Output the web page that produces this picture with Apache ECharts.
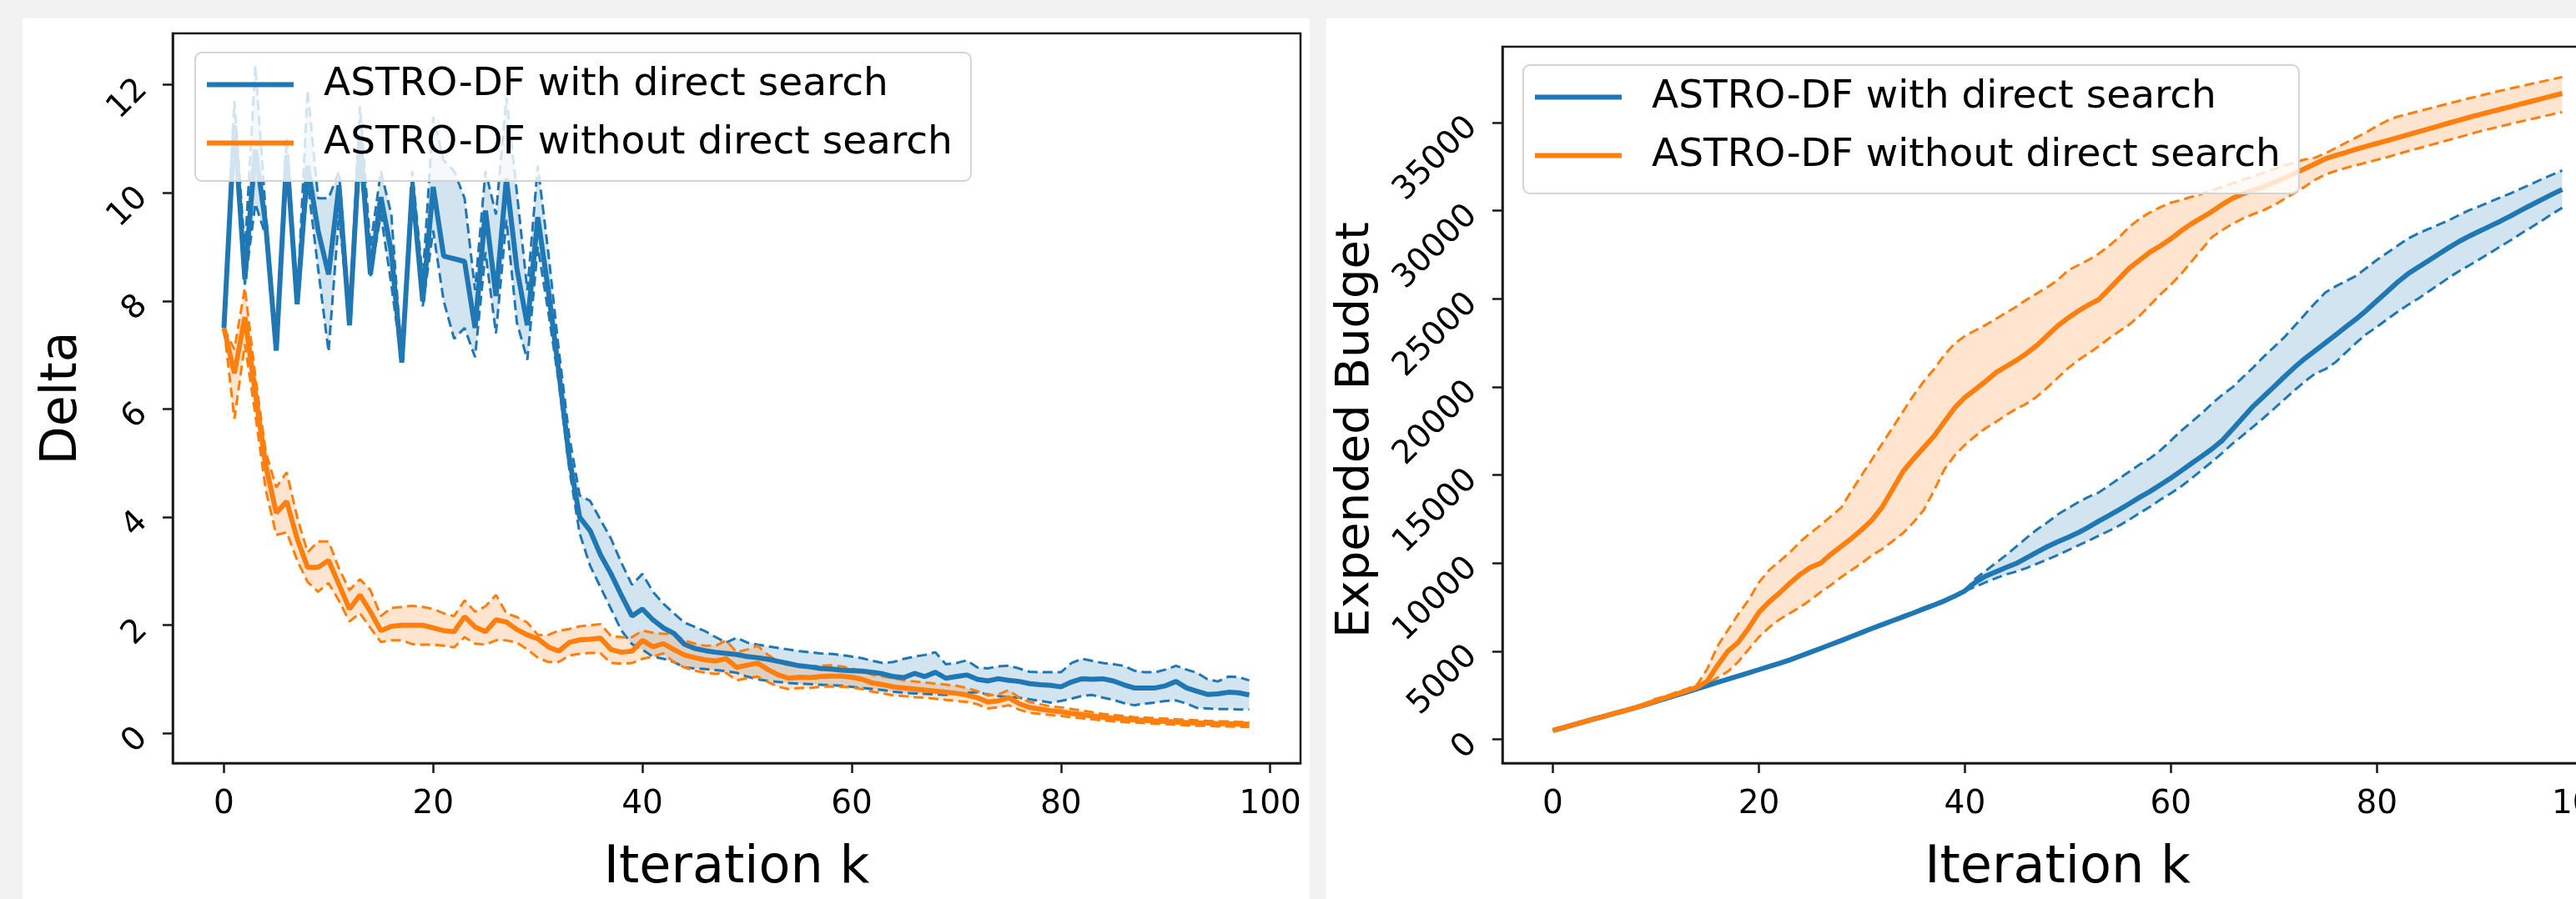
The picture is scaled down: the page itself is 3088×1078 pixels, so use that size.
<!DOCTYPE html>
<html lang="en">
<head>
<meta charset="UTF-8">
<title>ASTRO-DF with / without direct search</title>
<script src="https://cdn.jsdelivr.net/npm/echarts@6/dist/echarts.min.js"></script>
<style>
  html, body { margin: 0; padding: 0; background: #f2f2f2; overflow: hidden; width: 3088px; height: 1078px; }
  .panel { position: absolute; background: #fff; }
  #main { position: absolute; left: 0; top: 0; width: 3200px; height: 1078px; }
</style>
</head>
<body>
<div class="panel" style="left:27px;top:22px;width:1543px;height:1056px"></div>
<div class="panel" style="left:1590px;top:22px;width:1498px;height:1056px"></div>
<div id="main"></div>
<script>
var nameWith = 'ASTRO-DF with direct search';
var nameWithout = 'ASTRO-DF without direct search';
var blue = '#1f77b4';
var orange = '#ff7f0e';

var xTicks = [0, 20, 40, 60, 80, 100];
var deltaTicks = [0, 2, 4, 6, 8, 10, 12];
var budgetTicks = [0, 5000, 10000, 15000, 20000, 25000, 30000, 35000];

// left panel: Delta per iteration (k = 0..98)
var deltaWithMean = [7.50, 11.25, 8.40, 10.8, 9.4, 7.08, 10.7, 7.94, 10.5, 9.3, 8.49, 10.14, 7.55, 11.0, 8.49, 9.92, 8.9, 6.86, 10.11, 7.99,
  10.11, 8.83, 8.78, 8.73, 7.50, 9.67, 8.09, 10.26, 8.6, 7.55, 9.55, 8.2, 6.7, 5.1, 4.0,
  3.75, 3.30, 2.95, 2.55, 2.17, 2.30, 2.10, 1.95, 1.85, 1.65, 1.57, 1.53, 1.50, 1.48, 1.46, 1.42, 1.40, 1.37, 1.33, 1.29,
  1.25, 1.23, 1.20, 1.19, 1.17, 1.16, 1.15, 1.13, 1.10, 1.05, 1.03, 1.11, 1.05, 1.13, 1.02, 1.05, 1.08, 1.00, 0.97, 1.01,
  0.98, 0.96, 0.92, 0.90, 0.89, 0.86, 0.95, 1.01, 1.00, 1.01, 0.97, 0.90, 0.84, 0.84, 0.84, 0.88, 0.96, 0.84, 0.78, 0.72,
  0.73, 0.76, 0.75, 0.71];
var deltaWithLow = [7.50, 11.0, 8.30, 9.8, 9.2, 7.08, 10.5, 7.94, 10.2, 8.6, 7.06, 9.6, 7.55, 10.7, 8.45, 9.6, 8.3, 6.86, 10.0, 7.9,
  9.3, 8.0, 7.3, 7.5, 6.96, 8.9, 7.4, 9.5, 7.6, 6.91, 9.0, 7.8, 6.5, 4.9, 3.7,
  3.10, 2.70, 2.30, 1.90, 1.65, 1.55, 1.42, 1.38, 1.32, 1.22, 1.20, 1.19, 1.17, 1.15, 1.12, 1.05, 1.00, 0.97, 0.95, 0.93,
  0.92, 0.91, 0.90, 0.89, 0.88, 0.86, 0.84, 0.82, 0.80, 0.77, 0.75, 0.74, 0.73, 0.72, 0.71, 0.73, 0.75, 0.76, 0.72, 0.69,
  0.67, 0.66, 0.63, 0.60, 0.57, 0.60, 0.64, 0.69, 0.71, 0.66, 0.62, 0.56, 0.52, 0.55, 0.57, 0.60, 0.61, 0.55, 0.47, 0.46,
  0.45, 0.45, 0.44, 0.44];
var deltaWithHigh = [7.50, 11.7, 8.9, 12.35, 9.6, 7.2, 11.0, 8.0, 11.9, 9.9, 9.9, 10.4, 7.7, 11.6, 9.0, 10.4, 9.6, 6.9, 10.4, 8.4,
  11.4, 10.6, 10.4, 9.9, 8.2, 10.4, 9.6, 11.76, 10.0, 8.2, 10.5, 8.9, 7.1, 5.5, 4.4,
  4.30, 3.95, 3.60, 3.15, 2.75, 2.95, 2.62, 2.40, 2.22, 2.05, 1.97, 1.89, 1.78, 1.68, 1.77, 1.68, 1.64, 1.61, 1.58, 1.55,
  1.52, 1.50, 1.48, 1.47, 1.45, 1.42, 1.39, 1.34, 1.30, 1.32, 1.38, 1.42, 1.45, 1.50, 1.28, 1.30, 1.35, 1.22, 1.20, 1.24,
  1.25, 1.20, 1.14, 1.13, 1.13, 1.13, 1.30, 1.38, 1.34, 1.30, 1.28, 1.25, 1.16, 1.13, 1.13, 1.18, 1.25, 1.18, 1.12, 1.00,
  0.96, 1.05, 1.04, 0.98];

var deltaWithoutMean = [7.50, 6.66, 7.70, 6.30, 4.95, 4.08, 4.29, 3.60, 3.07, 3.07, 3.20, 2.75, 2.30, 2.56, 2.25, 1.90, 1.98, 2.00, 2.00, 2.00,
  1.95, 1.90, 1.88, 2.16, 1.97, 1.88, 2.10, 2.06, 1.92, 1.82, 1.75, 1.60, 1.52, 1.68, 1.73, 1.74, 1.76, 1.55, 1.50, 1.52,
  1.72, 1.60, 1.66, 1.55, 1.45, 1.40, 1.36, 1.34, 1.38, 1.22, 1.26, 1.30, 1.18, 1.08, 1.02, 1.04, 1.03, 1.05, 1.06, 1.06,
  1.04, 1.00, 0.93, 0.90, 0.86, 0.84, 0.82, 0.80, 0.78, 0.76, 0.74, 0.71, 0.66, 0.58, 0.60, 0.66, 0.55, 0.48, 0.45, 0.42,
  0.40, 0.37, 0.35, 0.32, 0.30, 0.28, 0.27, 0.25, 0.24, 0.23, 0.22, 0.21, 0.20, 0.19, 0.19, 0.18, 0.18, 0.17, 0.17];
var deltaWithoutLow = [7.50, 5.82, 7.20, 5.90, 4.50, 3.67, 3.72, 3.20, 2.80, 2.62, 2.78, 2.45, 2.07, 2.22, 1.95, 1.69, 1.72, 1.72, 1.65, 1.64,
  1.64, 1.62, 1.59, 1.78, 1.66, 1.64, 1.72, 1.72, 1.68, 1.55, 1.40, 1.32, 1.32, 1.44, 1.47, 1.49, 1.48, 1.30, 1.29, 1.30,
  1.38, 1.42, 1.48, 1.32, 1.22, 1.16, 1.12, 1.10, 1.12, 0.98, 1.02, 1.05, 0.95, 0.86, 0.82, 0.84, 0.84, 0.86, 0.87, 0.86,
  0.85, 0.82, 0.77, 0.74, 0.70, 0.69, 0.67, 0.66, 0.64, 0.62, 0.60, 0.58, 0.54, 0.46, 0.48, 0.52, 0.44, 0.38, 0.36, 0.34,
  0.32, 0.30, 0.28, 0.26, 0.24, 0.22, 0.21, 0.20, 0.19, 0.18, 0.17, 0.16, 0.15, 0.14, 0.14, 0.13, 0.13, 0.12, 0.12];
var deltaWithoutHigh = [7.50, 7.10, 8.24, 6.60, 5.20, 4.55, 4.83, 4.00, 3.35, 3.55, 3.55, 3.05, 2.65, 2.85, 2.65, 2.17, 2.32, 2.34, 2.36, 2.34,
  2.30, 2.22, 2.17, 2.46, 2.25, 2.35, 2.56, 2.22, 2.15, 2.05, 1.82, 1.82, 1.90, 1.93, 1.98, 2.00, 2.02, 1.80, 1.78, 1.78,
  1.90, 1.86, 1.84, 1.84, 1.72, 1.66, 1.62, 1.62, 1.72, 1.50, 1.55, 1.62, 1.45, 1.33, 1.25, 1.26, 1.24, 1.25, 1.26, 1.24,
  1.20, 1.15, 1.08, 1.05, 1.02, 0.98, 0.96, 0.94, 0.92, 0.90, 0.88, 0.84, 0.78, 0.70, 0.72, 0.80, 0.66, 0.58, 0.54, 0.50,
  0.48, 0.45, 0.42, 0.39, 0.36, 0.34, 0.32, 0.30, 0.29, 0.28, 0.27, 0.26, 0.25, 0.24, 0.23, 0.22, 0.22, 0.21, 0.21];

// right panel: expended budget per iteration (k = 0..98)
var budgetWithMean = [500, 660, 820, 985, 1150, 1310, 1470, 1630, 1790, 1960, 2140, 2320, 2500, 2680, 2870, 3050, 3230, 3410, 3590, 3770,
  3950, 4130, 4310, 4500, 4720, 4940, 5160, 5380, 5600, 5830, 6060, 6290, 6510, 6730, 6950, 7170, 7400, 7620, 7850, 8120,
  8420, 8900, 9250, 9500, 9750, 9980, 10300, 10620, 10930, 11200, 11450, 11720, 12040, 12380, 12700, 13030, 13380, 13740, 14070, 14440,
  14820, 15230, 15650, 16060, 16480, 16960, 17600, 18250, 18900, 19450, 20000, 20560, 21100, 21600, 22050, 22500, 22950, 23400, 23850, 24350,
  24880, 25400, 25930, 26400, 26780, 27150, 27530, 27900, 28250, 28560, 28840, 29120, 29400, 29700, 30020, 30320, 30620, 30920, 31200];
var budgetWithLow = [500, 660, 820, 985, 1150, 1310, 1470, 1630, 1790, 1960, 2140, 2320, 2500, 2680, 2870, 3050, 3230, 3410, 3590, 3770,
  3950, 4130, 4310, 4500, 4720, 4940, 5160, 5380, 5600, 5830, 6060, 6290, 6510, 6730, 6950, 7170, 7400, 7620, 7850, 8120,
  8420, 8650, 8900, 9140, 9350, 9520, 9720, 9960, 10200, 10450, 10720, 11000, 11270, 11550, 11830, 12130, 12480, 12850, 13200, 13600,
  13960, 14350, 14800, 15280, 15750, 16250, 16780, 17250, 17740, 18230, 18750, 19280, 19800, 20300, 20750, 21000, 21400, 21950, 22500, 23000,
  23400, 23830, 24250, 24640, 25000, 25400, 25800, 26200, 26570, 26900, 27250, 27600, 27970, 28320, 28700, 29050, 29420, 29800, 30160];
var budgetWithHigh = [500, 660, 820, 985, 1150, 1310, 1470, 1630, 1790, 1960, 2140, 2320, 2500, 2680, 2870, 3050, 3230, 3410, 3590, 3770,
  3950, 4130, 4310, 4500, 4720, 4940, 5160, 5380, 5600, 5830, 6060, 6290, 6510, 6730, 6950, 7170, 7400, 7620, 7850, 8120,
  8420, 9100, 9550, 10000, 10450, 10940, 11430, 11900, 12300, 12750, 13100, 13450, 13750, 14000, 14400, 14800, 15200, 15600, 15950, 16400,
  16950, 17500, 18000, 18500, 19050, 19550, 19980, 20550, 21100, 21700, 22250, 22800, 23450, 24100, 24750, 25350, 25700, 26000, 26300, 26750,
  27200, 27600, 28000, 28400, 28700, 28950, 29200, 29450, 29750, 30030, 30250, 30500, 30750, 30980, 31250, 31500, 31780, 32030, 32280];

var budgetWithoutMean = [500, 660, 820, 985, 1150, 1310, 1470, 1630, 1790, 1980, 2180, 2370, 2560, 2750, 2950, 3300, 4200, 5000, 5500, 6300,
  7200, 7800, 8300, 8850, 9350, 9750, 10000, 10500, 10950, 11400, 11900, 12450, 13200, 14200, 15200, 15900, 16550, 17200, 18000, 18800,
  19400, 19850, 20300, 20800, 21150, 21500, 21900, 22350, 22900, 23450, 23900, 24300, 24650, 24950, 25550, 26150, 26750, 27200, 27650, 28000,
  28400, 28850, 29250, 29600, 29950, 30350, 30700, 30950, 31150, 31350, 31600, 31850, 32100, 32380, 32650, 32940, 33130, 33300, 33480, 33650,
  33810, 33970, 34140, 34300, 34470, 34630, 34800, 34970, 35130, 35300, 35450, 35600, 35750, 35900, 36050, 36200, 36350, 36500, 36650];
var budgetWithoutLow = [500, 660, 820, 985, 1150, 1310, 1470, 1630, 1790, 1920, 2100, 2300, 2480, 2650, 2850, 3150, 3500, 3850, 4400, 5100,
  5800, 6350, 6800, 7150, 7500, 7900, 8350, 8750, 9200, 9600, 10000, 10450, 10800, 11250, 11700, 12300, 13000, 14100, 15300, 16100,
  16700, 17200, 17650, 18000, 18400, 18750, 19050, 19450, 19950, 20500, 21050, 21500, 21900, 22300, 22750, 23150, 23550, 24050, 24650, 25250,
  25800, 26400, 27100, 27800, 28500, 28900, 29250, 29550, 29800, 30020, 30300, 30650, 31000, 31350, 31750, 32050, 32250, 32420, 32580, 32730,
  32880, 33030, 33200, 33370, 33530, 33690, 33850, 34010, 34170, 34330, 34500, 34640, 34780, 34920, 35060, 35190, 35330, 35460, 35590];
var budgetWithoutHigh = [500, 660, 820, 985, 1150, 1310, 1470, 1630, 1790, 2050, 2300, 2450, 2680, 2850, 3100, 4000, 5300, 6200, 7100, 7900,
  8900, 9600, 10100, 10600, 11200, 11700, 12150, 12650, 13150, 14100, 15000, 15900, 16800, 17700, 18600, 19500, 20300, 21000, 21800, 22450,
  22880, 23200, 23500, 23850, 24200, 24550, 24950, 25300, 25650, 26050, 26600, 26900, 27200, 27550, 28000, 28500, 29100, 29550, 29900, 30200,
  30450, 30600, 30780, 30950, 31150, 31350, 31550, 31750, 31950, 32150, 32350, 32550, 32730, 32900, 33000, 33250, 33550, 33850, 34150, 34450,
  34800, 35100, 35330, 35480, 35630, 35780, 35930, 36080, 36230, 36380, 36520, 36660, 36800, 36930, 37060, 37190, 37320, 37450, 37580];

var axisColor = '#1a1a1a';

function pairs(arr) {
  return arr.map(function (v, i) { return [i, v]; });
}

function band(id, low, high, color, gi) {
  return {
    type: 'custom',
    name: id,
    xAxisIndex: gi,
    yAxisIndex: gi,
    data: [[0, low[0]]],
    clip: true,
    silent: true,
    z: 1,
    renderItem: function (params, api) {
      var pts = [];
      for (var i = 0; i < high.length; i++) pts.push(api.coord([i, high[i]]));
      for (var j = low.length - 1; j >= 0; j--) pts.push(api.coord([j, low[j]]));
      return { type: 'polygon', shape: { points: pts }, style: { fill: color, opacity: 0.2 } };
    }
  };
}

function dashed(id, arr, color, gi) {
  return {
    type: 'line', name: id, xAxisIndex: gi, yAxisIndex: gi, data: pairs(arr),
    symbol: 'none', silent: true, z: 2,
    lineStyle: { color: color, width: 3, type: [12, 6] }
  };
}

function meanLine(name, arr, color, gi) {
  return {
    type: 'line', name: name, xAxisIndex: gi, yAxisIndex: gi, data: pairs(arr),
    symbol: 'none', z: 3,
    itemStyle: { color: color },
    lineStyle: { color: color, width: 6 }
  };
}

function xAxisFor(gi) {
  return {
    type: 'value', gridIndex: gi, min: -4.9, max: 102.9,
    name: 'Iteration k', nameLocation: 'middle', nameGap: 96,
    nameTextStyle: { fontSize: 62, color: '#000' },
    axisLine: { show: true, onZero: false, lineStyle: { color: axisColor, width: 2.5 } },
    axisTick: { show: true, length: 12, customValues: xTicks, lineStyle: { color: axisColor, width: 2.5 } },
    axisLabel: { fontSize: 39, color: '#000', margin: 30, customValues: xTicks,
      formatter: function (v) { return String(v); } },
    splitLine: { show: false }
  };
}

function yAxisFor(gi, name, min, max, ticks, gap, nameSize, namePad) {
  return {
    type: 'value', gridIndex: gi, min: min, max: max,
    name: name, nameLocation: 'middle', nameRotate: 90, nameGap: gap,
    nameTextStyle: { fontSize: nameSize, color: '#000', padding: namePad },
    axisLine: { show: true, onZero: false, lineStyle: { color: axisColor, width: 2.5 } },
    axisTick: { show: true, length: 12, customValues: ticks, lineStyle: { color: axisColor, width: 2.5 } },
    axisLabel: { fontSize: 39, color: '#000', rotate: 45, margin: 36, customValues: ticks,
      formatter: function (v) { return String(v); } },
    splitLine: { show: false }
  };
}

function legendAt(left, top) {
  return {
    left: left, top: top, orient: 'vertical',
    data: [nameWith, nameWithout],
    icon: 'rect',
    itemWidth: 104, itemHeight: 6, itemGap: 23,
    padding: [15, 22, 22, 14],
    backgroundColor: 'rgba(255,255,255,0.8)',
    borderColor: '#d4d4d4', borderWidth: 2, borderRadius: 8,
    selectedMode: false,
    textStyle: { fontSize: 47, color: '#000', padding: [0, 0, 0, 31] }
  };
}

var chart = echarts.init(document.getElementById('main'), null, { renderer: 'canvas' });
chart.setOption({
  animation: false,
  backgroundColor: 'transparent',
  textStyle: { fontFamily: 'DejaVu Sans' },
  grid: [
    { left: 207, top: 40, width: 1352, height: 955, show: true, borderColor: axisColor, borderWidth: 2.5 },
    { left: 1801, top: 56, width: 1331, height: 939, show: true, borderColor: axisColor, borderWidth: 2.5 }
  ],
  xAxis: [xAxisFor(0), xAxisFor(1)],
  yAxis: [
    yAxisFor(0, 'Delta', -0.55, 12.95, deltaTicks, 102, 60, 0),
    yAxisFor(1, 'Expended Budget', -1350, 39300, budgetTicks, 148, 56, [0, 60, 0, 0])
  ],
  legend: [legendAt(234, 63), legendAt(1826, 78)],
  series: [
    band('with band', deltaWithLow, deltaWithHigh, blue, 0),
    dashed('with low', deltaWithLow, blue, 0),
    dashed('with high', deltaWithHigh, blue, 0),
    meanLine(nameWith, deltaWithMean, blue, 0),
    band('without band', deltaWithoutLow, deltaWithoutHigh, orange, 0),
    dashed('without low', deltaWithoutLow, orange, 0),
    dashed('without high', deltaWithoutHigh, orange, 0),
    meanLine(nameWithout, deltaWithoutMean, orange, 0),

    band('with band 2', budgetWithLow, budgetWithHigh, blue, 1),
    dashed('with low 2', budgetWithLow, blue, 1),
    dashed('with high 2', budgetWithHigh, blue, 1),
    meanLine(nameWith, budgetWithMean, blue, 1),
    band('without band 2', budgetWithoutLow, budgetWithoutHigh, orange, 1),
    dashed('without low 2', budgetWithoutLow, orange, 1),
    dashed('without high 2', budgetWithoutHigh, orange, 1),
    meanLine(nameWithout, budgetWithoutMean, orange, 1)
  ]
});
</script>
</body>
</html>
